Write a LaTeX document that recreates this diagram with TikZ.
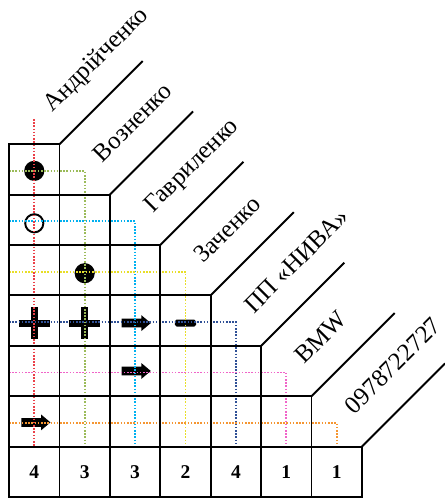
\documentclass[tikz,border=0pt]{standalone}
\usepackage{fontspec}
\setmainfont{Liberation Serif}
\usepackage{tikz}
\usetikzlibrary{arrows,shapes,calc}
\definecolor{trackred}{RGB}{235,64,72}
\definecolor{trackgreen}{RGB}{155,187,89}
\definecolor{trackcyan}{RGB}{0,176,240}
\definecolor{trackyellow}{RGB}{232,222,40}
\definecolor{tracknavy}{RGB}{47,80,150}
\definecolor{trackpink}{RGB}{240,100,200}
\definecolor{trackorange}{RGB}{245,150,50}
\tikzstyle{cell}=[draw,line width=1.1pt,minimum size=1cm,inner sep=0pt,outer sep=0pt]
\tikzstyle{count}=[font=\bfseries\fontsize{11}{13}\selectfont]
\tikzstyle{person}=[rotate=45,anchor=base west,inner sep=0pt,font=\fontsize{14}{17}\selectfont]
\tikzstyle{diag}=[line width=1.1pt]
\tikzstyle{track}=[line width=1.1pt,dash pattern=on 0.9pt off 0.9pt]
\tikzstyle{full dot}=[circle,fill=black,minimum size=0.4cm,inner sep=0pt]
\tikzstyle{empty dot}=[circle,draw,line width=1.1pt,minimum size=0.36cm,inner sep=0pt]
\tikzstyle{plus mark}=[cross out,draw,rotate=45,line width=4pt,minimum size=0.3cm,inner sep=0pt]
\tikzstyle{minus mark}=[rectangle,fill=black,minimum width=0.42cm,minimum height=0.14cm,inner sep=0pt,rounded corners=1pt]
\tikzstyle{arrow mark}=[single arrow,fill=black,inner xsep=0pt,inner ysep=0.08cm,minimum height=0.58cm,single arrow head extend=0.07cm,single arrow tip angle=80]

\begin{document}
\begin{tikzpicture}
    \useasboundingbox (-0.18,-7.02) rectangle (8.63,2.86);
    \foreach \pos/\name/\kind in {{(0.5,-0.53)/s0/full dot}, {(0.5,-1.57)/s1/empty dot}, {(1.5,-2.56)/s2/full dot}, {(0.5,-3.55)/s3/plus mark}, {(1.5,-3.55)/s4/plus mark}, {(2.47,-3.55)/s5/arrow mark}, {(3.5,-3.55)/s6/minus mark}, {(2.47,-4.5)/s7/arrow mark}, {(0.48,-5.52)/s8/arrow mark}}
        \node[\kind] (\name) at \pos {};
    \draw[track,trackred] (0.5,0.5) -- (0.5,-6);
    \foreach \i/\col in {1/trackgreen, 2/trackcyan, 3/trackyellow, 4/tracknavy, 5/trackpink, 6/trackorange}
        \draw[track,\col] (0,{-\i+0.47}) -| (\i+0.5,-6);
    \foreach \j in {0,...,5}
        \foreach \i in {0,...,\j}
            \node[cell] (c\i-\j) at (\i+0.5,-\j-0.5) {};
    \foreach \num [count=\i from 0] in {4,3,3,2,4,1,1}
        \node[cell,count] (n\i) at (\i+0.5,-6.5) {\num};
    \foreach \i in {0,...,6}
        \draw[diag] (\i+1,-\i) -- ++(1.65,1.65);
    \foreach \who [count=\i from 0] in {Андрійченко, Возненко, Гавриленко, Заченко, ПП «НИВА», BMW, 0978722727}
        \node[person] (p\i) at ($(\i,-\i)+(0.855,0.619)$) {\who};
\end{tikzpicture}
\end{document}
